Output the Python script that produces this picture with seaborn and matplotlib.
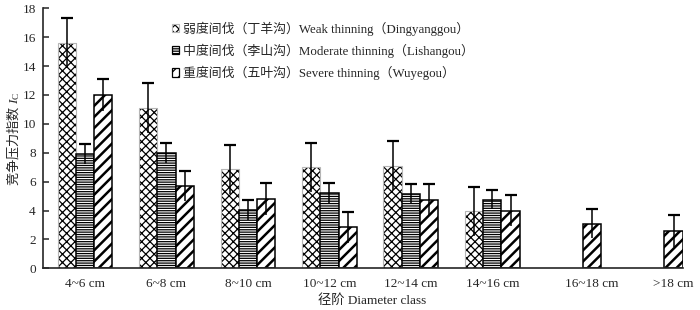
import numpy as np
import pandas as pd
import seaborn as sns
from matplotlib import pyplot as plt
from matplotlib.patches import Patch

sns.set_style("ticks")
plt.rcParams["font.family"] = ["Liberation Serif", "Noto Sans CJK SC"]
plt.rcParams["mathtext.fontset"] = "custom"
plt.rcParams["mathtext.rm"] = "Noto Sans CJK SC"
plt.rcParams["mathtext.it"] = "Liberation Serif:italic"
plt.rcParams["mathtext.sf"] = "Liberation Serif"
plt.rcParams["hatch.linewidth"] = 0.9

classes = ["4~6 cm", "6~8 cm", "8~10 cm", "10~12 cm", "12~14 cm", "14~16 cm", "16~18 cm", ">18 cm"]
treatments = [
    "弱度间伐（丁羊沟）Weak thinning（Dingyanggou）",
    "中度间伐（李山沟）Moderate thinning（Lishangou）",
    "重度间伐（五叶沟）Severe thinning（Wuyegou）",
]
weak_ic = [15.6, 11.1, 6.85, 7.0, 7.1, 3.95, np.nan, np.nan]
weak_err = [1.7, 1.7, 1.7, 1.7, 1.7, 1.7, np.nan, np.nan]
moderate_ic = [7.9, 8.0, 4.05, 5.2, 5.15, 4.75, np.nan, np.nan]
moderate_err = [0.7, 0.7, 0.7, 0.7, 0.7, 0.65, np.nan, np.nan]
severe_ic = [12.0, 5.7, 4.8, 2.85, 4.75, 4.0, 3.1, 2.6]
severe_err = [1.1, 1.05, 1.1, 1.07, 1.06, 1.09, 1.0, 1.1]

values = [weak_ic, moderate_ic, severe_ic]
errors = [weak_err, moderate_err, severe_err]

rows = []
for t, vals, errs in zip(treatments, values, errors):
    for c, v, e in zip(classes, vals, errs):
        if not np.isnan(v):
            rows.append([c, t, v, e])
df = pd.DataFrame(rows, columns=["diameter_class", "treatment", "ic", "err"])

hatches = ["xxxx", "-------", "///"]
edges = ["#b5b5b5", "black", "black"]
line_widths = [0.8, 1.1, 1.1]


def style_bar(bar, i, hatch_lw=None):
    bar.set_hatch(hatches[i])
    bar.set_edgecolor(edges[i])
    bar.set_linewidth(line_widths[i])
    # hatch stays black even when the outline is grey
    bar._hatch_color = (0, 0, 0, 1)
    if hatch_lw and hasattr(bar, "set_hatch_linewidth"):
        bar.set_hatch_linewidth(hatch_lw)


fig = plt.figure(figsize=(7, 3.1), dpi=100)
ax = fig.add_axes([0.0619, 0.1345, 0.9134, 0.8387])

bar_width = 0.674
sns.barplot(
    data=df,
    x="diameter_class",
    y="ic",
    hue="treatment",
    order=classes,
    hue_order=treatments,
    palette=["white"] * 3,
    width=bar_width,
    errorbar=None,
    legend=False,
    ax=ax,
)

single = bar_width / 3
xs, ys, es = [], [], []
severe_pos = {}
for bar in list(ax.patches):
    h = bar.get_height()
    if np.isnan(h):
        continue
    cx = bar.get_x() + bar.get_width() / 2
    ci = int(round(cx))
    hi = int(round((cx - ci) / single)) + 1
    style_bar(bar, hi, 1.8 if hi == 2 else 0.9)
    if hi == 2:
        severe_pos[ci] = cx
    xs.append(cx)
    ys.append(h)
    es.append(errors[hi][ci])

xs, ys, es = np.array(xs), np.array(ys), np.array(es)
ax.errorbar(xs, ys, yerr=es, fmt="none", ecolor="black", elinewidth=1.1, capsize=0, zorder=5)
ax.plot(xs, ys + es, ls="none", marker="_", ms=8.6, mew=1.6, color="black", zorder=5)

handles = []
for i in range(3):
    p = Patch(facecolor="white")
    style_bar(p, i, 1.5 if i == 2 else 0.9)
    if i > 0:
        p.set_linewidth(0.9)
    handles.append(p)
ax.legend(
    handles, treatments,
    loc="upper left",
    bbox_to_anchor=(0.236, 0.952),
    bbox_transform=fig.transFigure,
    frameon=False,
    borderpad=0,
    fontsize=9.3,
    handlelength=0.6,
    handleheight=0.6,
    handletextpad=0.25,
    labelspacing=0.62,
)

# lone severe bars get their label right under the bar
tick_pos = []
for ci in range(len(classes)):
    if np.isnan(weak_ic[ci]) and ci in severe_pos:
        tick_pos.append(severe_pos[ci])
    else:
        tick_pos.append(ci)
ax.set_xticks(tick_pos)
ax.set_xticklabels(classes)

ax.set_xlim(-0.512, 7 + 1.5 * single)
ax.set_ylim(0, 18)
ax.set_yticks(range(0, 19, 2))
ax.tick_params(axis="y", direction="in", length=4, width=1.1, labelsize=9.5, pad=5.5)
ax.tick_params(axis="x", length=0, labelsize=9.5, pad=7)
for s in ["top", "right"]:
    ax.spines[s].set_visible(False)
for s in ["left", "bottom"]:
    ax.spines[s].set_linewidth(1.2)

ax.set_xlabel("径阶 Diameter class", fontsize=9.5)
ax.xaxis.set_label_coords(0.514, -0.1)
ax.set_ylabel(r"$\mathrm{竞争压力指数}\ I_{\mathsf{C}}$", fontsize=9.5)
ax.yaxis.set_label_coords(-0.034, 0.5)

plt.savefig("out.png", dpi=100)
plt.close()
